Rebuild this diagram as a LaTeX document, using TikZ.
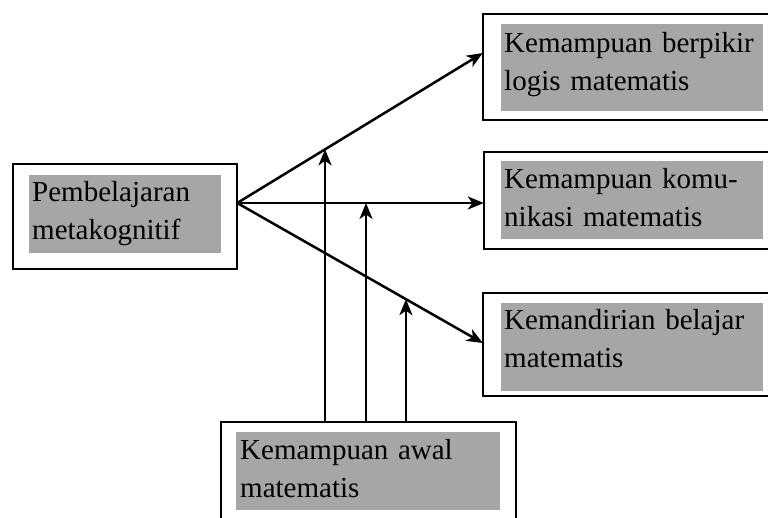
\documentclass[tikz,border=0pt]{standalone}
\usepackage{fontspec}
\setmainfont{Liberation Serif}
\usetikzlibrary{arrows.meta,calc}
\definecolor{boxgray}{RGB}{166,166,166}
\begin{document}
\begin{tikzpicture}[x=1pt,y=-1pt,
  outerbox/.style={draw=black,line width=2.2pt,fill=white},
  graybox/.style={fill=boxgray,draw=none},
  boxtext/.style={anchor=base west,inner sep=0pt,text width=300pt,align=left,
    font=\fontsize{29}{38}\selectfont},
  conn/.style={line width=2.5pt,-{Stealth[length=16pt,width=13pt,inset=4.5pt]}}]
\useasboundingbox (0,0) rectangle (768,518);
% outer boxes
\draw[outerbox] (13,164) rectangle (237,269);
\draw[outerbox] (483,14) rectangle (780,120);
\draw[outerbox] (484,152) rectangle (780,249);
\draw[outerbox] (483,293) rectangle (780,396);
\draw[outerbox] (221,422) rectangle (516,540);
% named anchors of the boxes
\node[inner sep=0pt,minimum width=224pt,minimum height=105pt] (L) at (125,216.5) {};
\node[inner sep=0pt,minimum width=297pt,minimum height=106pt] (T) at (631.5,67) {};
\node[inner sep=0pt,minimum width=296pt,minimum height=97pt] (M) at (632,200.5) {};
\node[inner sep=0pt,minimum width=297pt,minimum height=103pt] (R) at (631.5,344.5) {};
\node[inner sep=0pt,minimum width=295pt,minimum height=118pt] (B) at (368.5,481) {};
% gray fills
\fill[graybox] (29,175) rectangle (221,253);
\fill[graybox] (501,24) rectangle (763,111);
\fill[graybox] (501,161) rectangle (763,239);
\fill[graybox] (501,303) rectangle (763,391);
\fill[graybox] (236,432) rectangle (500,510);
% texts
\node[boxtext] (tL) at (32,202) {Pembelajaran\\metakognitif};
\node[boxtext] (tT) at (504,53) {Kemampuan berpikir\\logis matematis};
\node[boxtext] (tM) at (504,189) {Kemampuan komu-\\nikasi matematis};
\node[boxtext] (tR) at (504,330) {Kemandirian belajar\\matematis};
\node[boxtext] (tB) at (240,459) {Kemampuan awal\\matematis};
% connector points
\coordinate (o) at (L.east |- 0,203);
\coordinate (eT) at (T.west |- 0,53);
\coordinate (eM) at (M.west |- 0,203);
\coordinate (eR) at (R.west |- 0,343);
\draw[conn] (o) -- (eT);
\draw[conn] (o) -- (eM);
\draw[conn] (o) -- (eR);
\coordinate (p1) at ($(o)!0.3577!(eT)$);
\coordinate (p2) at (366,203);
\coordinate (p3) at ($(o)!0.687!(eR)$);
\draw[conn] (p1 |- B.north) -- (p1);
\draw[conn] (p2 |- B.north) -- (p2);
\draw[conn] (p3 |- B.north) -- (p3);
\end{tikzpicture}
\end{document}
